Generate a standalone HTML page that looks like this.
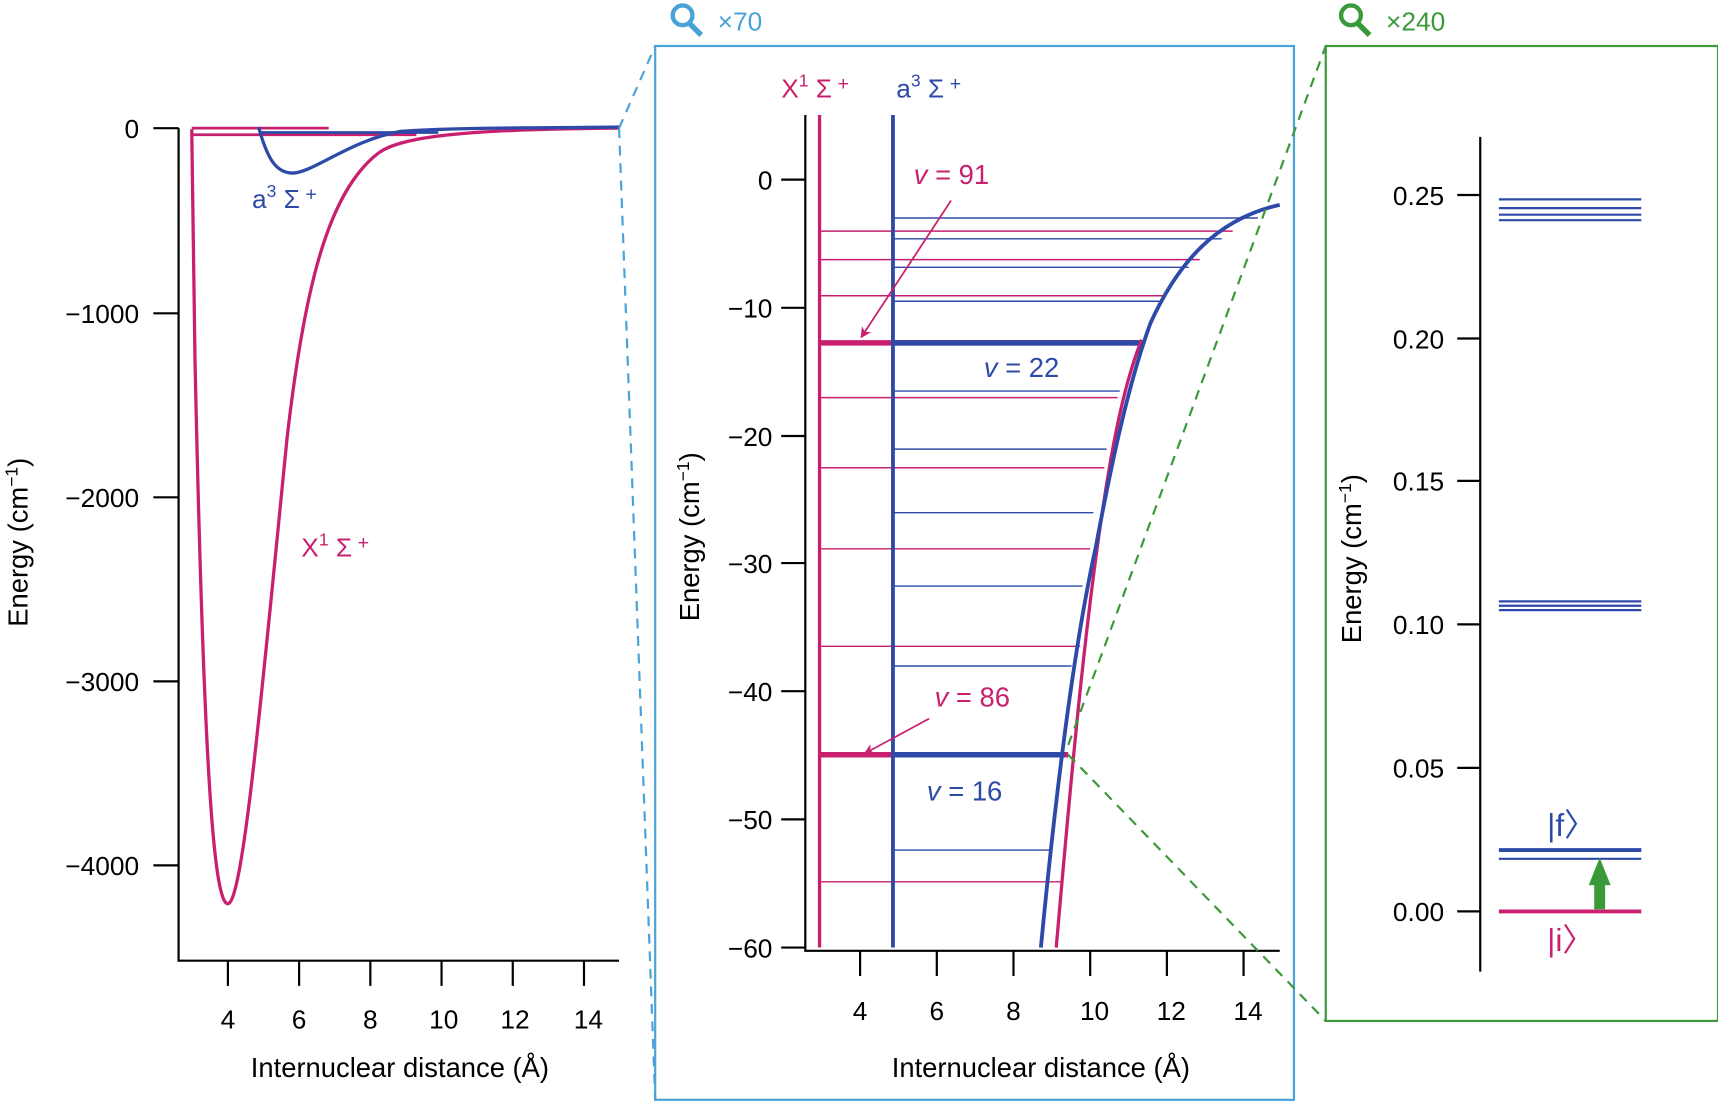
<!DOCTYPE html>
<html><head><meta charset="utf-8"><style>html,body{margin:0;padding:0;background:#fff}svg{display:block}text{font-family:"Liberation Sans",sans-serif}</style></head><body>
<svg width="1718" height="1102" viewBox="0 0 1568 1006" preserveAspectRatio="none" xmlns="http://www.w3.org/2000/svg">
<defs>
<marker id="am" markerWidth="10" markerHeight="10" refX="9" refY="5" orient="auto" markerUnits="userSpaceOnUse"><path d="M0,0 L10,5 L0,10 L3,5 z" fill="#c8206e"/></marker>
</defs>
<g font-size="24" fill="#000">
<!-- Panel 1 -->
<g stroke="#000" stroke-width="2" fill="none">
<path d="M163,117 V877 H565"/>
<path d="M140,117H163M140,286H163M140,454H163M140,622H163M140,790H163"/>
<path d="M208,877V900M273,877V900M338,877V900M403,877V900M468,877V900M533,877V900"/>
</g>
<g text-anchor="end"><text x="127" y="126">0</text><text x="127" y="295">−1000</text><text x="127" y="463">−2000</text><text x="127" y="631">−3000</text><text x="127" y="799">−4000</text></g>
<g text-anchor="middle"><text x="208" y="939">4</text><text x="273" y="939">6</text><text x="338" y="939">8</text><text x="405" y="939">10</text><text x="470" y="939">12</text><text x="537" y="939">14</text>
<text x="365" y="983" font-size="25">Internuclear distance (Å)</text></g>
<text transform="translate(25,495) rotate(-90)" text-anchor="middle" font-size="25">Energy (cm<tspan dy="-9" font-size="16">−1</tspan><tspan dy="9">)</tspan></text>
<path d="M175,123 H380" stroke="#c8206e" stroke-width="2.5"/>
<path d="M175,117 H300" stroke="#c8206e" stroke-width="2.5"/>
<path d="M236,121 H400" stroke="#2e4aa8" stroke-width="2.5"/>
<path d="M175,118 L178,330 C186,700 195,825 208,825 C222,825 240,620 262,400 C278,260 300,175 345,140 C365,125 420,118 565,117" stroke="#c8206e" stroke-width="3" fill="none"/>
<path d="M236,116 C244,145 252,158 267,158 C285,158 320,128 365,120 C420,116 500,117 565,116" stroke="#2e4aa8" stroke-width="3" fill="none"/>
<text x="230" y="190" fill="#2e4aa8" font-size="24">a<tspan dy="-10" font-size="16">3</tspan><tspan dy="10"> Σ</tspan><tspan dy="-7" font-size="18"> +</tspan></text>
<text x="275" y="508" fill="#c8206e" font-size="24">X<tspan dy="-10" font-size="16">1</tspan><tspan dy="10"> Σ</tspan><tspan dy="-7" font-size="18"> +</tspan></text>
<path d="M565,117 L598,42 M565,117 L598,1004" stroke="#4aa3d8" stroke-width="2" stroke-dasharray="9,7" fill="none"/>
<!-- Panel 2 -->
<rect x="598" y="42" width="583" height="962" fill="none" stroke="#4aa3d8" stroke-width="2"/>
<circle cx="623" cy="14" r="9" fill="none" stroke="#4aa3d8" stroke-width="4"/><path d="M629,21 L640,32" stroke="#4aa3d8" stroke-width="5"/>
<text x="655" y="28" fill="#4aa3d8" font-size="24">×70</text>
<g stroke="#000" stroke-width="2" fill="none">
<path d="M735,105 V868 H1168"/>
<path d="M713,164H735M713,281H735M713,398H735M713,514H735M713,631H735M713,748H735M713,865H735"/>
<path d="M785,868V891M855,868V891M925,868V891M995,868V891M1065,868V891M1135,868V891"/>
</g>
<g text-anchor="end"><text x="705" y="173">0</text><text x="705" y="290">−10</text><text x="705" y="407">−20</text><text x="705" y="523">−30</text><text x="705" y="640">−40</text><text x="705" y="757">−50</text><text x="705" y="874">−60</text></g>
<g text-anchor="middle"><text x="785" y="931">4</text><text x="855" y="931">6</text><text x="925" y="931">8</text><text x="999" y="931">10</text><text x="1069" y="931">12</text><text x="1139" y="931">14</text>
<text x="950" y="983" font-size="25">Internuclear distance (Å)</text></g>
<text transform="translate(638,490) rotate(-90)" text-anchor="middle" font-size="25">Energy (cm<tspan dy="-9" font-size="16">−1</tspan><tspan dy="9">)</tspan></text>
<g stroke="#c8206e" stroke-width="1.3">
<path d="M748,211H1125M748,237H1095M748,270H1062M748,363H1020M748,427H1008M748,501H995M748,590H986M748,805H968"/>
</g>
<g stroke="#2e4aa8" stroke-width="1.3">
<path d="M815,199H1148M815,218H1115M815,244H1085M815,275H1058M815,357H1022M815,410H1010M815,468H998M815,535H988M815,608H978M815,776H958"/>
</g>
<path d="M748,313H1040M748,689H975" stroke="#c8206e" stroke-width="5"/>
<path d="M815,313H1040M815,689H972" stroke="#2e4aa8" stroke-width="5"/>
<path d="M748,105V865" stroke="#c8206e" stroke-width="3"/>
<path d="M815,105V865" stroke="#2e4aa8" stroke-width="3.5"/>
<path d="M964,865 C975,740 990,560 1012,430 C1022,370 1032,335 1042,310" stroke="#c8206e" stroke-width="3" fill="none"/>
<path d="M950,865 C962,740 978,600 1000,500 C1015,420 1030,350 1050,295 C1075,240 1110,200 1168,187" stroke="#2e4aa8" stroke-width="3.5" fill="none"/>
<text x="713" y="89" fill="#c8206e" font-size="24">X<tspan dy="-10" font-size="16">1</tspan><tspan dy="10"> Σ</tspan><tspan dy="-7" font-size="18"> +</tspan></text>
<text x="818" y="89" fill="#2e4aa8" font-size="24">a<tspan dy="-10" font-size="16">3</tspan><tspan dy="10"> Σ</tspan><tspan dy="-7" font-size="18"> +</tspan></text>
<text x="834" y="168" fill="#c8206e" font-size="25"><tspan font-style="italic">v</tspan> = 91</text>
<text x="898" y="344" fill="#2e4aa8" font-size="25"><tspan font-style="italic">v</tspan> = 22</text>
<text x="853" y="645" fill="#c8206e" font-size="25"><tspan font-style="italic">v</tspan> = 86</text>
<text x="846" y="731" fill="#2e4aa8" font-size="25"><tspan font-style="italic">v</tspan> = 16</text>
<path d="M868,183 L786,308" stroke="#c8206e" stroke-width="1.6" marker-end="url(#am)"/>
<path d="M848,656 L789,688" stroke="#c8206e" stroke-width="1.6" marker-end="url(#am)"/>
<path d="M975,680 L1210,42 M975,689 L1210,932" stroke="#3a9a3a" stroke-width="2" stroke-dasharray="9,7" fill="none"/>
<!-- Panel 3 -->
<rect x="1210" y="42" width="358" height="890" fill="#fff" stroke="#3a9a3a" stroke-width="2"/>
<circle cx="1233" cy="14" r="9" fill="none" stroke="#3a9a3a" stroke-width="4"/><path d="M1239,21 L1250,32" stroke="#3a9a3a" stroke-width="5"/>
<text x="1265" y="28" fill="#3a9a3a" font-size="24">×240</text>
<g stroke="#000" stroke-width="2" fill="none">
<path d="M1351,125 V887"/>
<path d="M1330,178H1351M1330,309H1351M1330,439H1351M1330,570H1351M1330,701H1351M1330,832H1351"/>
</g>
<g text-anchor="end"><text x="1318" y="187">0.25</text><text x="1318" y="318">0.20</text><text x="1318" y="448">0.15</text><text x="1318" y="579">0.10</text><text x="1318" y="710">0.05</text><text x="1318" y="841">0.00</text></g>
<text transform="translate(1242,510) rotate(-90)" text-anchor="middle" font-size="25">Energy (cm<tspan dy="-9" font-size="16">−1</tspan><tspan dy="9">)</tspan></text>
<g stroke="#2e4aa8" stroke-width="2">
<path d="M1368,182H1498M1368,190H1498M1368,196H1498M1368,201H1498M1368,549H1498M1368,553H1498M1368,557H1498M1368,784H1498"/>
</g>
<path d="M1368,776H1498" stroke="#2e4aa8" stroke-width="3.5"/>
<path d="M1368,832H1498" stroke="#c8206e" stroke-width="3.5"/>
<path d="M1455,830V808H1450L1460,783L1470,808H1465V830Z" fill="#3a9a3a"/>
<text x="1412" y="763" fill="#2e4aa8" font-size="29">|f〉</text>
<text x="1412" y="868" fill="#c8206e" font-size="29">|i〉</text>
</g>
</svg>
</body></html>
